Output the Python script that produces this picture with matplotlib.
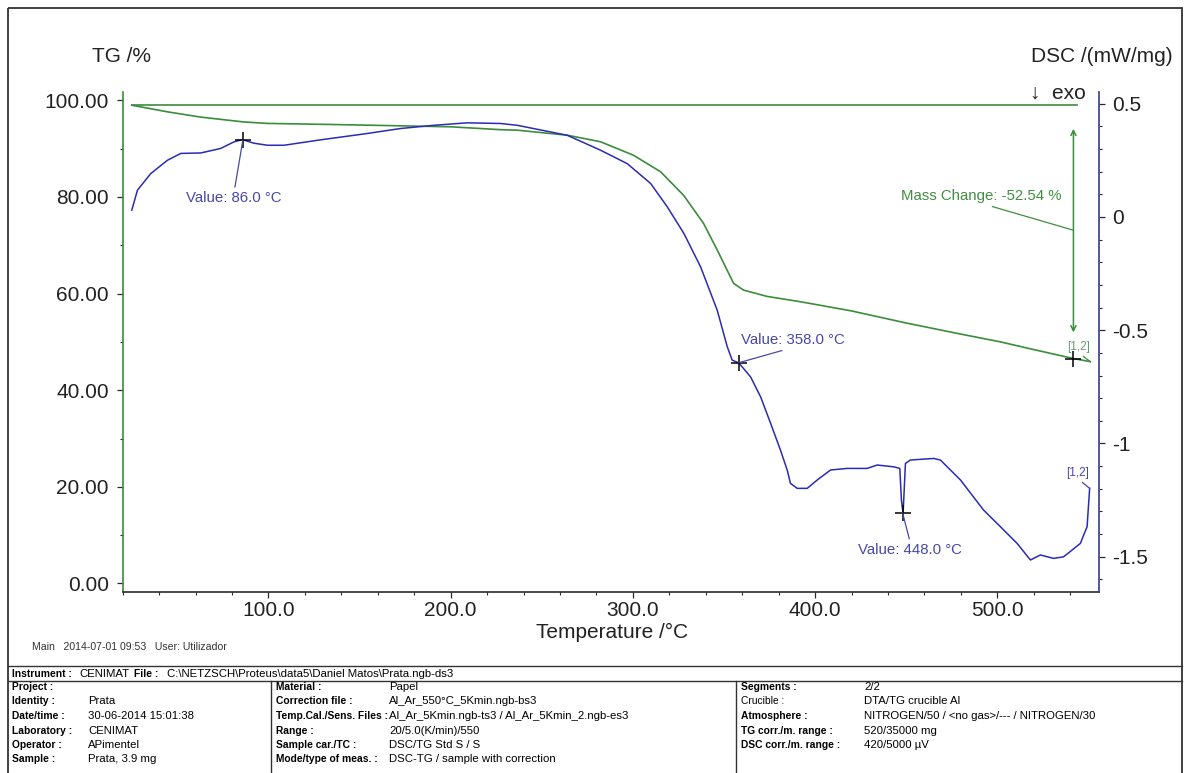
import matplotlib
matplotlib.use("Agg")
import matplotlib.pyplot as plt
from matplotlib.ticker import MultipleLocator, FormatStrFormatter, FuncFormatter
from matplotlib.patches import Rectangle

plt.rcParams['font.family'] = ['Liberation Sans', 'DejaVu Sans']
plt.rcParams['axes.unicode_minus'] = False

# Curva TG (verde): temperatura en °C, masa en %
tg_temp = [25.0, 44.5, 62.9, 86.5, 99.5, 135.8, 172.6, 200.0, 209.2, 227.5,
           236.6, 264.0, 282.3, 300.4, 315.2, 327.9, 338.8, 346.3, 355.3, 360.8,
           373.7, 392.0, 420.0, 450.0, 480.0, 501.7, 520.0, 541.8, 551.1]
tg_masa = [98.97, 97.6, 96.5, 95.5, 95.2, 94.97, 94.7, 94.5, 94.3, 93.9,
           93.8, 92.76, 91.4, 88.6, 85.2, 80.3, 74.5, 69.0, 62.1, 60.7,
           59.4, 58.3, 56.4, 53.9, 51.6, 50.0, 48.4, 46.55, 45.9]
tg_inicial = 98.97
tg_ref_temp = [25.0, 543.6]

# Curva DSC (azul): temperatura en °C, señal en mW/mg
dsc_temp = [25.0, 28.1, 35.4, 44.6, 51.9, 62.9, 73.8, 81.1, 85.7, 92.0,
            99.5, 108.6, 126.9, 154.3, 172.6, 190.8, 209.2, 227.5, 236.6, 264.0,
            282.3, 296.9, 309.8, 318.9, 328.0, 337.2, 346.3, 351.8, 354.5, 358.1,
            364.6, 370.1, 375.6, 381.0, 384.7, 386.5, 390.2, 395.7, 401.2, 408.5,
            417.6, 428.6, 434.1, 443.2, 446.5, 447.4, 448.3, 449.0, 449.6, 452.3,
            465.1, 468.8, 479.8, 492.5, 501.7, 510.9, 518.2, 523.7, 530.9, 536.4,
            545.6, 549.3, 550.7]
dsc_val = [0.03, 0.118, 0.191, 0.250, 0.280, 0.282, 0.302, 0.331, 0.341, 0.325,
           0.316, 0.316, 0.338, 0.368, 0.390, 0.404, 0.415, 0.412, 0.404, 0.360,
           0.294, 0.235, 0.147, 0.044, -0.073, -0.221, -0.412, -0.573, -0.632, -0.644,
           -0.706, -0.794, -0.911, -1.029, -1.117, -1.176, -1.198, -1.198, -1.161, -1.117,
           -1.110, -1.110, -1.095, -1.103, -1.110, -1.250, -1.308, -1.191, -1.088, -1.073,
           -1.066, -1.073, -1.161, -1.294, -1.367, -1.441, -1.514, -1.492, -1.507, -1.500,
           -1.441, -1.367, -1.198]

# Picos marcados
pico_temp = [86.0, 358.0, 448.0]
pico_dsc = [0.341, -0.644, -1.305]
pico_txt = ["Value: 86.0 °C", "Value: 358.0 °C", "Value: 448.0 °C"]
pico_txt_pos = [(81.2, 0.082), (388.0, -0.545), (452.3, -1.47)]
pico_relpos = [(0.5, 1.0), (0.5, 0.0), (0.5, 1.0)]

masa_cambio = -52.54
masa_final = 46.5
masa_temp = 541.8

# Tabla de informacion
col1 = [("Project :", ""), ("Identity :", "Prata"), ("Date/time :", "30-06-2014 15:01:38"),
        ("Laboratory :", "CENIMAT"), ("Operator :", "APimentel"), ("Sample :", "Prata, 3.9 mg")]
col2 = [("Material :", "Papel"), ("Correction file :", "Al_Ar_550°C_5Kmin.ngb-bs3"),
        ("Temp.Cal./Sens. Files :", "Al_Ar_5Kmin.ngb-ts3 / Al_Ar_5Kmin_2.ngb-es3"),
        ("Range :", "20/5.0(K/min)/550"), ("Sample car./TC :", "DSC/TG Std S / S"),
        ("Mode/type of meas. :", "DSC-TG / sample with correction")]
col3 = [("Segments :", "2/2"), ("Crucible :", "DTA/TG crucible Al"),
        ("Atmosphere :", "NITROGEN/50 / <no gas>/--- / NITROGEN/30"),
        ("TG corr./m. range :", "520/35000 mg"), ("DSC corr./m. range :", "420/5000 µV")]

VERDE = '#3b8c3b'
VERDE_TXT = '#3f8f3f'
AZUL = '#2b2bb5'
AZUL_TXT = '#4848a8'
GRIS = '#2a2a2a'

W, H = 1187, 773
fig = plt.figure(figsize=(W / 100, H / 100), dpi=100)

x0, x1, y0, y1 = 122.7, 1099.3, 92.0, 591.7
ax = fig.add_axes([x0 / W, 1 - y1 / H, (x1 - x0) / W, (y1 - y0) / H])
ax2 = ax.twinx()

# Capa en pixeles para marco, textos y tabla (encima de los ejes)
fondo = fig.add_axes([0, 0, 1, 1])
fondo.set_xlim(0, W)
fondo.set_ylim(H, 0)
fondo.axis("off")
fondo.patch.set_alpha(0)
fondo.set_zorder(10)

ax.set_xlim(20, 556)
ax.set_ylim(-1.7, 101.7)
ax2.set_ylim(-1.654, 0.551)

# Curvas
ax.plot(tg_temp, tg_masa, color=VERDE, lw=1.2)
ax.plot(tg_ref_temp, [tg_inicial, tg_inicial], color=VERDE, lw=1.2)
ax2.plot(dsc_temp, dsc_val, color=AZUL, lw=1.1)

# Marcadores "+"
ax2.plot(pico_temp, pico_dsc, ls='none', marker='+', ms=11, mew=1.1, color='black')
ax.plot([masa_temp], [masa_final], ls='none', marker='+', ms=11, mew=1.1, color='black')

fs_ann = 10.8
for t, d, txt, pos, rp in zip(pico_temp, pico_dsc, pico_txt, pico_txt_pos, pico_relpos):
    ax2.annotate(txt, xy=(t, d), xytext=pos, ha='center', va='center',
                 fontsize=fs_ann, color=AZUL_TXT,
                 arrowprops=dict(arrowstyle='-', color=AZUL_TXT, lw=0.9,
                                 shrinkA=1, shrinkB=0, relpos=rp))

# Cambio de masa
ax.annotate('', xy=(masa_temp, masa_final), xytext=(masa_temp, tg_inicial),
            arrowprops=dict(arrowstyle='<->', color=VERDE, lw=1.1,
                            shrinkA=17, shrinkB=19, mutation_scale=9))
ax.annotate(f"Mass Change: {masa_cambio:.2f} %", xy=(masa_temp, 73.1), xytext=(491.3, 80.1),
            ha='center', va='center', fontsize=fs_ann, color=VERDE_TXT,
            arrowprops=dict(arrowstyle='-', color=VERDE_TXT, lw=0.9,
                            shrinkA=1, shrinkB=0, relpos=(0.5, 0.0)))
ax.annotate("[1,2]", xy=(tg_temp[-1], tg_masa[-1]), xytext=(544.5, 49.0),
            ha='center', va='center', fontsize=8.5, color='#6a9a6a',
            arrowprops=dict(arrowstyle='-', color=VERDE, lw=0.9,
                            shrinkA=1, shrinkB=0, relpos=(0.5, 0.0)))
ax2.annotate("[1,2]", xy=(dsc_temp[-1], dsc_val[-1]), xytext=(544.2, -1.129),
             ha='center', va='center', fontsize=8.5, color=AZUL_TXT,
             arrowprops=dict(arrowstyle='-', color=AZUL_TXT, lw=0.9,
                             shrinkA=1, shrinkB=0, relpos=(0.5, 0.0)))

# Ejes y ticks
for s in ['top', 'right']:
    ax.spines[s].set_visible(False)
for s in ['top', 'left', 'bottom']:
    ax2.spines[s].set_visible(False)
ax.spines['left'].set_color(VERDE)
ax.spines['bottom'].set_color(GRIS)
ax2.spines['right'].set_color('#3a3a8c')
for sp in [ax.spines['left'], ax.spines['bottom'], ax2.spines['right']]:
    sp.set_linewidth(1.2)

ax.xaxis.set_major_locator(MultipleLocator(100))
ax.xaxis.set_minor_locator(MultipleLocator(20))
ax.xaxis.set_major_formatter(FormatStrFormatter('%.1f'))
ax.yaxis.set_major_locator(MultipleLocator(20))
ax.yaxis.set_minor_locator(MultipleLocator(10))
ax.yaxis.set_major_formatter(FormatStrFormatter('%.2f'))
ax2.yaxis.set_major_locator(MultipleLocator(0.5))
ax2.yaxis.set_minor_locator(MultipleLocator(0.1))
ax2.yaxis.set_major_formatter(FuncFormatter(lambda v, p: f"{v:g}"))

ax.tick_params(axis='both', which='major', length=4, width=0.9, color=GRIS,
               labelsize=15, labelcolor='#222222', direction='out')
ax.tick_params(axis='both', which='minor', length=2.5, width=0.8, color=GRIS, direction='out')
ax.tick_params(axis='x', pad=3)
ax.tick_params(axis='y', pad=6)
ax2.tick_params(axis='y', which='major', length=4, width=0.9, color=GRIS,
                labelsize=15, labelcolor='#222222', pad=5)
ax2.tick_params(axis='y', which='minor', length=2.5, width=0.8, color=GRIS)

# Titulos de ejes
fondo.text(122, 57, "TG /%", fontsize=15, ha='center', va='center', color='#222222')
fondo.text(1173, 57, "DSC /(mW/mg)", fontsize=15, ha='right', va='center', color='#222222')
fondo.text(1086, 93, "↓  exo", fontsize=15, ha='right', va='center', color='#222222')
fondo.text(612, 632, "Temperature /°C", fontsize=15, ha='center', va='center', color='#222222')
fondo.text(32, 647, "Main   2014-07-01 09:53   User: Utilizador", fontsize=7.6,
           ha='left', va='center', color='#333333')

# Marco y tabla
fondo.add_patch(Rectangle((8, 8), 1174, 780, fill=False, edgecolor='#333333', lw=1.3))
for yy in [666, 681]:
    fondo.plot([8, 1182], [yy, yy], color='#333333', lw=1.0)
for xx in [271, 736]:
    fondo.plot([xx, xx], [681, H + 5], color='#333333', lw=1.0)

fs_lab = 7.4
fs_val = 8.2
fondo.text(12, 674, "Instrument :", fontsize=fs_lab, weight='bold', va='center')
fondo.text(79, 674, "CENIMAT", fontsize=fs_val, va='center')
fondo.text(134, 674, "File :", fontsize=fs_lab, weight='bold', va='center')
fondo.text(167, 674, "C:\\NETZSCH\\Proteus\\data5\\Daniel Matos\\Prata.ngb-ds3", fontsize=fs_val, va='center')

filas_y = [687, 701.5, 716, 730.5, 745, 759.5]
for filas, xl, xv in [(col1, 12, 88), (col2, 276, 389), (col3, 741, 864)]:
    for (lab, val), yy in zip(filas, filas_y):
        peso = 'normal' if lab == "Crucible :" else 'bold'
        fondo.text(xl, yy, lab, fontsize=fs_lab, weight=peso, va='center')
        fondo.text(xv, yy, val, fontsize=fs_val, va='center')

plt.savefig("out.png", dpi=100)
plt.close(fig)
